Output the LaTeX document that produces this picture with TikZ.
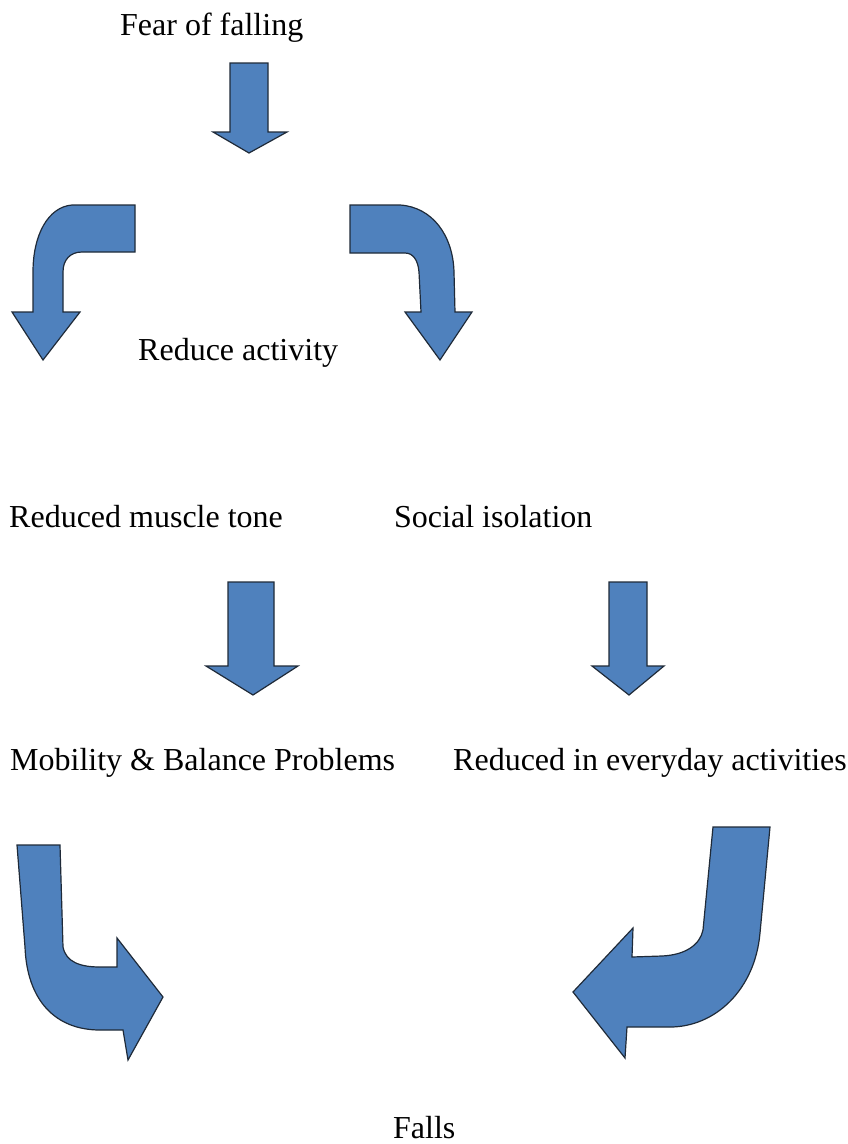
\documentclass[tikz,border=0pt]{standalone}
\usepackage{fontspec}
\setmainfont{Liberation Serif}
\definecolor{arrowblue}{HTML}{4F81BD}
\definecolor{arrowedge}{HTML}{1F2A38}
\begin{document}
\begin{tikzpicture}[x=1pt,y=-1pt,
  lbl/.style={inner sep=0pt, anchor=base west, font=\fontsize{32}{38}\selectfont},
  blockarrow/.style={fill=arrowblue, draw=arrowedge, line width=1.2pt, line join=miter}]
\useasboundingbox (0,0) rectangle (847,1144);
% labels
\node[lbl] (fear) at (120,35) {Fear of falling};
\node[lbl] (reduce) at (138,360) {Reduce activity};
\node[lbl] (muscle) at (9,527) {Reduced muscle tone};
\node[lbl] (social) at (394,527) {Social isolation};
\node[lbl] (mobility) at (10,770) {Mobility \& Balance Problems};
\node[lbl] (everyday) at (453,770) {Reduced in everyday activities};
\node[lbl] (falls) at (393,1138) {Falls};
% top straight arrow
\path[blockarrow] (230,63) -- (268,63) -- (268,132) -- (287,132) -- (249,153) -- (213,132) -- (230,132) -- cycle;
% top left bent arrow
\path[blockarrow] (135,205) -- (72,205) .. controls (48,207) and (33,235) .. (33,272) -- (33,312) -- (12,312) -- (43,360) -- (80,312) -- (63,312) -- (63,272) .. controls (63,260) and (70,252) .. (82,252) -- (135,252) -- cycle;
% top right bent arrow
\path[blockarrow] (350,205) -- (400,205) .. controls (432,207) and (453,235) .. (454,272) -- (455,312) -- (472,312) -- (440,360) -- (405,312) -- (421,312) -- (419,272) .. controls (418,260) and (413,253) .. (405,253) -- (350,253) -- cycle;
% middle arrows
\path[blockarrow] (228,582) -- (274,582) -- (274,666) -- (298,666) -- (253,695) -- (206,666) -- (228,666) -- cycle;
\path[blockarrow] (609,582) -- (647,582) -- (647,666) -- (664,666) -- (629,695) -- (592,666) -- (609,666) -- cycle;
% bottom left arrow
\path[blockarrow] (17,845) -- (60,845) -- (63,947) .. controls (66,962) and (80,967) .. (100,967) -- (117,967) -- (117,938) -- (163,997) -- (128,1060) -- (123,1030) -- (100,1030) .. controls (55,1030) and (27,1000) .. (25,947) -- cycle;
% bottom right arrow
\path[blockarrow] (713,827) -- (770,827) -- (760,933) .. controls (755,990) and (715,1027) .. (670,1027) -- (627,1027) -- (625,1058) -- (573,992) -- (633,928) -- (632,957) -- (662,956) .. controls (685,955) and (700,945) .. (703,930) -- cycle;
\end{tikzpicture}
\end{document}
